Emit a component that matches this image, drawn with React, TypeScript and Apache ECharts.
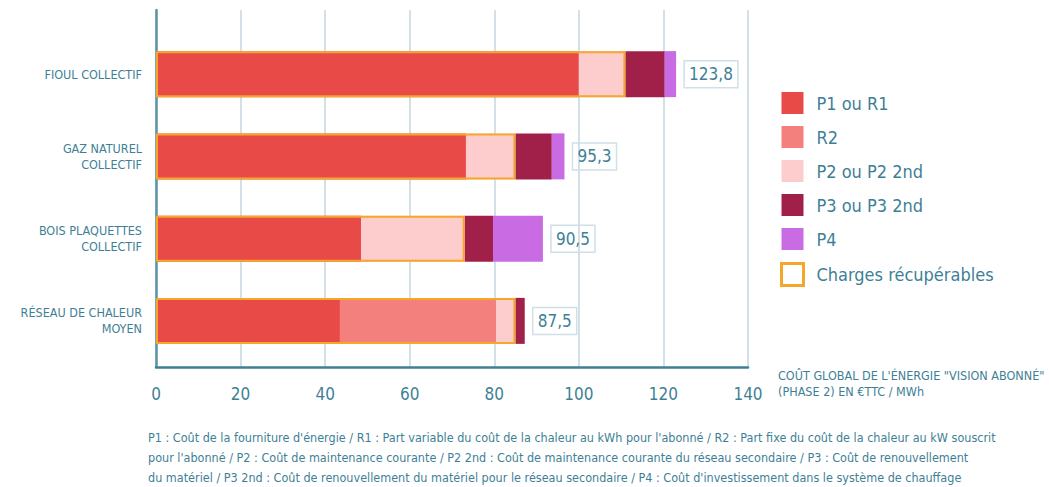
import React, { useEffect, useRef } from "react";
import * as echarts from "echarts";

const categories = [
  "FIOUL COLLECTIF",
  "GAZ NATUREL\nCOLLECTIF",
  "BOIS PLAQUETTES\nCOLLECTIF",
  "RÉSEAU DE CHALEUR\nMOYEN",
];
const p1r1 = [100, 73.3, 48.5, 43.5];
const r2 = [0, 0, 0, 37];
const p2 = [11, 11.7, 24.5, 4.5];
const p3 = [9.3, 8.6, 6.7, 2.2];
const p4 = [2.7, 3, 11.8, 0];
const totals = [123.8, 95.3, 90.5, 87.5];
const xMin = 0;
const xMax = 140;
const xInterval = 20;

const seriesNames = ["P1 ou R1", "R2", "P2 ou P2 2nd", "P3 ou P3 2nd", "P4", "Charges récupérables"];
const colors = ["#e84a47", "#f3807c", "#fdcdcd", "#a0204a", "#c96be3"];
const ORANGE = "#f4a72a";
const TEAL = "#3e7f96";
const FONT = "'DejaVu Sans Condensed', 'Liberation Sans Narrow', sans-serif";

const axisTitle = "COÛT GLOBAL DE L'ÉNERGIE \"VISION ABONNÉ\"\n(PHASE 2) EN €TTC / MWh";
const footnote =
  "P1 : Coût de la fourniture d'énergie / R1 : Part variable du coût de la chaleur au kWh pour l'abonné / R2 : Part fixe du coût de la chaleur au kW souscrit\n" +
  "pour l'abonné / P2 : Coût de maintenance courante / P2 2nd : Coût de maintenance courante du réseau secondaire / P3 : Coût de renouvellement\n" +
  "du matériel / P3 2nd : Coût de renouvellement du matériel pour le réseau secondaire / P4 : Coût d'investissement dans le système de chauffage";

export default function App() {
  const ref = useRef<HTMLDivElement>(null);
  useEffect(() => {
    document.body.style.margin = "0";
    const chart = echarts.init(ref.current!, null, { renderer: "svg" });
    const recup = p1r1.map((v, i) => v + r2[i] + p2[i]);
    const stackEnds = p1r1.map((v, i) => v + r2[i] + p2[i] + p3[i] + p4[i]);
    const stackData = [p1r1, r2, p2, p3, p4];
    const BW = 46;
    const option: any = {
      animation: false,
      grid: [
        { left: 156, right: 301, top: 33, bottom: 125 },
        { left: 156, right: 301, top: 10, bottom: 120 },
      ],
      xAxis: [
        { type: "value", gridIndex: 0, min: xMin, max: xMax, interval: xInterval, show: false },
        {
          type: "value",
          gridIndex: 1,
          min: xMin,
          max: xMax,
          interval: xInterval,
          axisLine: { show: true, lineStyle: { color: TEAL, width: 2.5 } },
          axisTick: { show: false },
          splitLine: { show: true, lineStyle: { color: "#c3d7df", width: 1.5 } },
          axisLabel: { color: TEAL, fontFamily: FONT, fontSize: 17, margin: 18 },
        },
      ],
      yAxis: [
        {
          type: "category",
          gridIndex: 0,
          data: categories,
          inverse: true,
          axisLine: { show: false },
          axisTick: { show: false },
          axisLabel: {
            color: TEAL,
            fontFamily: FONT,
            fontSize: 12.5,
            lineHeight: 16,
            margin: 14,
            align: "right",
          },
        },
        {
          type: "value",
          gridIndex: 1,
          min: 0,
          max: 1,
          axisLine: { show: true, onZero: false, lineStyle: { color: "#5d93a7", width: 2.5 } },
          axisTick: { show: false },
          axisLabel: { show: false },
          splitLine: { show: false },
        },
      ],
      legend: {
        orient: "vertical",
        left: 780,
        top: 92,
        padding: 0,
        itemWidth: 22,
        itemHeight: 22,
        itemGap: 12,
        icon: "rect",
        textStyle: { color: TEAL, fontFamily: FONT, fontSize: 18, padding: [0, 0, 0, 8] },
        data: [
          ...seriesNames.slice(0, 5),
          {
            name: "Charges récupérables",
            icon: "rect",
            itemStyle: { color: "#ffffff", borderColor: ORANGE, borderWidth: 3 },
          },
        ],
      },
      series: [
        ...stackData.map((d, i) => ({
          name: seriesNames[i],
          type: "bar",
          stack: "total",
          xAxisIndex: 0,
          yAxisIndex: 0,
          barWidth: BW,
          barGap: "-100%",
          itemStyle: { color: colors[i] },
          data: d,
        })),
        {
          name: "Charges récupérables",
          type: "bar",
          xAxisIndex: 0,
          yAxisIndex: 0,
          barWidth: BW,
          barGap: "-100%",
          z: 5,
          itemStyle: { color: "rgba(0,0,0,0)", borderColor: ORANGE, borderWidth: 2 },
          data: recup,
        },
        {
          name: "Total",
          type: "bar",
          xAxisIndex: 0,
          yAxisIndex: 0,
          barWidth: BW,
          barGap: "-100%",
          z: 1,
          itemStyle: { color: "rgba(0,0,0,0)" },
          label: {
            show: true,
            position: "right",
            distance: 8,
            color: TEAL,
            fontFamily: FONT,
            fontSize: 17,
            borderColor: "#cfe0e7",
            borderWidth: 1.5,
            padding: [6, 5, 4, 5],
            formatter: (p: any) => totals[p.dataIndex].toFixed(1).replace(".", ","),
          },
          data: stackEnds,
        },
      ],
      graphic: [
        {
          type: "text",
          left: 778,
          top: 367,
          style: { text: axisTitle, fill: TEAL, font: `12.5px ${FONT}`, lineHeight: 16 },
        },
        {
          type: "text",
          left: 148,
          top: 427,
          style: { text: footnote, fill: TEAL, font: `12.5px ${FONT}`, lineHeight: 20 },
        },
      ],
    };
    chart.setOption(option);
    return () => chart.dispose();
  }, []);
  return <div ref={ref} style={{ width: 1049, height: 487 }} />;
}
